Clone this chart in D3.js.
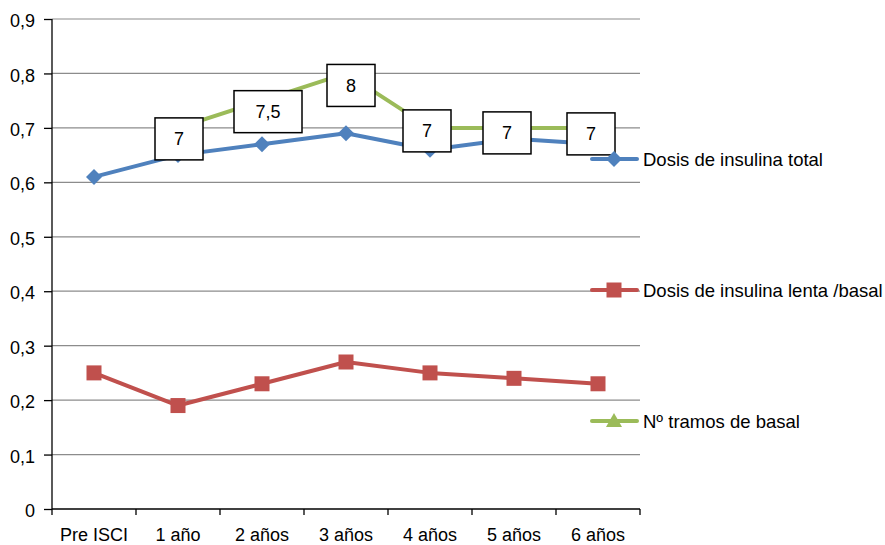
<!DOCTYPE html>
<html><head><meta charset="utf-8">
<script src="https://cdn.jsdelivr.net/npm/d3@7"></script>
<style>body{margin:0;background:#fff}svg{display:block;font-family:"Liberation Sans",Arial,sans-serif}</style>
</head><body><svg id="c" width="885" height="545"></svg>
<script>
const categories = ["Pre ISCI","1 año","2 años","3 años","4 años","5 años","6 años"];
const dosisTotal = [0.61,0.65,0.67,0.69,0.66,0.68,0.67];
const dosisBasal = [0.25,0.19,0.23,0.27,0.25,0.24,0.23];
const tramos = [null,7,7.5,8,7,7,7];           // Nº tramos de basal (plotted /10)
const tramosLabels = ["","7","7,5","8","7","7","7"];
const yTicks = [0,0.1,0.2,0.3,0.4,0.5,0.6,0.7,0.8,0.9];
const seriesNames = ["Dosis de insulina total","Dosis de insulina lenta /basal","Nº tramos de basal"];

// layout (not data)
const labelOffsets = [[0,0],[1,11],[6,11],[5,12],[-3,3],[-7,5],[-7,6]];
const colors = ["#4F81BD","#C0504D","#9BBB59"];

const svg = d3.select("#c");
const x = d3.scaleBand().domain(categories).range([52,640]).padding(0);
const y = d3.scaleLinear().domain([0,0.9]).range([509,19]);
const cx = c => x(c) + x.bandwidth()/2;
const fmt = v => v === 0 ? "0" : d3.format(".1f")(v).replace(".", ",");

// gridlines
svg.append("g").selectAll("line").data(yTicks.filter(t=>t>0)).join("line")
  .attr("x1",52).attr("x2",640).attr("y1",d=>y(d)).attr("y2",d=>y(d))
  .attr("stroke","#8c8c8c").attr("stroke-width",1.2);

// y axis
const ya = svg.append("g").attr("transform","translate(52,0)")
  .call(d3.axisLeft(y).tickValues(yTicks).tickFormat(fmt).tickSize(8).tickPadding(9));
ya.select(".domain").attr("stroke","#000").attr("stroke-width",1.3).attr("d","M0,"+y(0.9)+"V"+y(0));
ya.selectAll(".tick line").attr("stroke","#000").attr("stroke-width",1.3);
ya.selectAll("text").attr("font-size",18).attr("dy","0.42em").attr("fill","#000").attr("font-family","Liberation Sans, Arial, sans-serif");

// x axis
const xa = svg.append("g").attr("transform","translate(0,509)")
  .call(d3.axisBottom(x).tickSize(0).tickPadding(19));
xa.select(".domain").attr("stroke","#000").attr("stroke-width",1.3).attr("d","M52,0H640");
xa.selectAll("text").attr("font-size",18).attr("fill","#000").attr("font-family","Liberation Sans, Arial, sans-serif");
const tickXs = categories.map(c=>x(c)).concat([640]);
xa.selectAll(".xt").data(tickXs).join("line").attr("class","xt")
  .attr("x1",d=>d).attr("x2",d=>d).attr("y1",0).attr("y2",6).attr("stroke","#000").attr("stroke-width",1.3);

const line = d3.line().defined(d=>d[1]!=null).x(d=>d[0]).y(d=>y(d[1]));

function diamond(g, px, py, col){
  g.append("path").attr("d",`M${px},${py-8}L${px+8},${py}L${px},${py+8}L${px-8},${py}Z`).attr("fill",col);
}
function square(g, px, py, col){
  g.append("rect").attr("x",px-7.5).attr("y",py-7.5).attr("width",15).attr("height",15).attr("fill",col);
}
function triangle(g, px, py, col){
  g.append("path").attr("d",`M${px},${py-8}L${px+8},${py+6}L${px-8},${py+6}Z`).attr("fill",col);
}

// blue
const gB = svg.append("g");
gB.append("path").attr("d",line(categories.map((c,i)=>[cx(c),dosisTotal[i]])))
  .attr("fill","none").attr("stroke",colors[0]).attr("stroke-width",4).attr("stroke-linejoin","round");
categories.forEach((c,i)=>diamond(gB,cx(c),y(dosisTotal[i]),colors[0]));

// red
const gR = svg.append("g");
gR.append("path").attr("d",line(categories.map((c,i)=>[cx(c),dosisBasal[i]])))
  .attr("fill","none").attr("stroke",colors[1]).attr("stroke-width",4).attr("stroke-linejoin","round");
categories.forEach((c,i)=>square(gR,cx(c),y(dosisBasal[i]),colors[1]));

// green
const gG = svg.append("g");
gG.append("path").attr("d",line(categories.map((c,i)=>[cx(c),tramos[i]==null?null:tramos[i]/10])))
  .attr("fill","none").attr("stroke",colors[2]).attr("stroke-width",4).attr("stroke-linejoin","round");
categories.forEach((c,i)=>{ if(tramos[i]!=null) triangle(gG,cx(c),y(tramos[i]/10),colors[2]); });

// data labels
const gL = svg.append("g");
categories.forEach((c,i)=>{
  if(tramos[i]==null) return;
  const px = cx(c)+labelOffsets[i][0], py = y(tramos[i]/10)+labelOffsets[i][1];
  const w = tramosLabels[i].length>1 ? 68 : 48, h = 42;
  gL.append("rect").attr("x",px-w/2).attr("y",py-h/2).attr("width",w).attr("height",h)
    .attr("fill","#fff").attr("stroke","#000").attr("stroke-width",1.5);
  gL.append("text").attr("x",px).attr("y",py+6.5).attr("text-anchor","middle")
    .attr("font-size",18).attr("fill","#000").text(tramosLabels[i]);
});

// legend
const legendY = [159,290,421];
const markers = [diamond,square,triangle];
seriesNames.forEach((n,i)=>{
  const g = svg.append("g");
  g.append("line").attr("x1",592).attr("x2",637).attr("y1",legendY[i]).attr("y2",legendY[i])
    .attr("stroke",colors[i]).attr("stroke-width",4).attr("stroke-linecap","round");
  markers[i](g,614,legendY[i],colors[i]);
  g.append("text").attr("x",643).attr("y",legendY[i]+7).attr("font-size",18.5).attr("fill","#000").text(n);
});
</script></body></html>
